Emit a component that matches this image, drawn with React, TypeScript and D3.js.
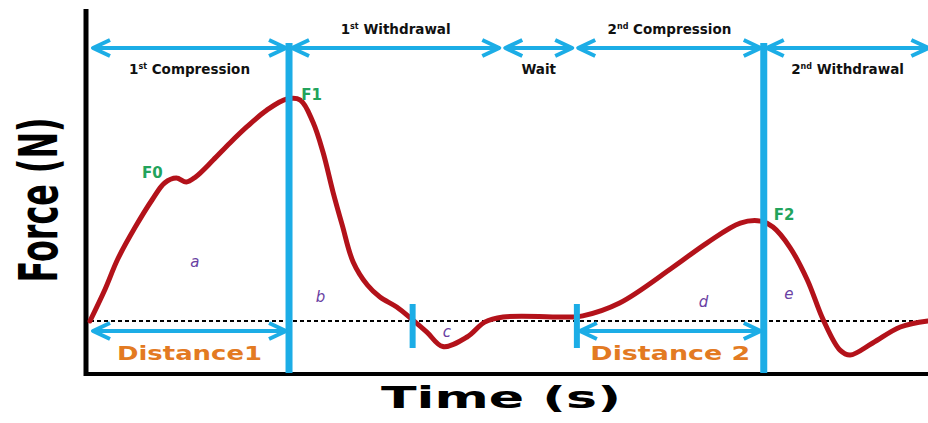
import React from 'react';
import * as d3 from 'd3';

// curve samples: time (arbitrary units 0-100) and force (relative units, F1 = 100)
const times = [0, 1.8, 3.3, 5.4, 7.4, 8.9, 10.3, 11.5, 12.6, 14.7, 16.7, 18.7, 21.1, 23.5, 25.1, 26.6, 27.8, 29.0, 30.1, 31.4, 33.1, 34.6, 36.6, 38.5, 40.2, 42.1, 45.0, 47.1, 49.3, 57.3, 58.8, 63.2, 69.6, 73.6, 77.6, 80.0, 81.5, 83.5, 85.6, 87.5, 89.5, 90.7, 93.4, 96.7, 100];
const forces = [0, 14.3, 27.8, 42.3, 54.5, 62.2, 64.4, 62.6, 64.9, 72.5, 80.2, 87.4, 95.0, 100, 99.5, 89.6, 76.1, 58.1, 43.2, 26.6, 16.2, 10.8, 6.3, 0.5, -5.0, -11.5, -7.2, -0.5, 1.8, 1.8, 2.3, 8.1, 24.3, 35.1, 44.1, 45.0, 42.3, 33.3, 18.5, 0.5, -13.1, -15.3, -9.9, -2.7, 0];

// phases along the top
const phaseStarts = [0, 23.75, 49.2, 57.9, 80.4];
const phaseEnds = [23.75, 49.2, 57.9, 80.4, 100.4];
const phaseOrdinals = ['1', '1', '', '2', '2'];
const phaseSups = ['st', 'st', '', 'nd', 'nd'];
const phaseNames = [' Compression', ' Withdrawal', 'Wait', ' Compression', ' Withdrawal'];
const phaseAbove = [false, true, false, true, false];

// big separators and short markers
const bigLines = [23.75, 80.4];
const shortMarks = [38.5, 58.1];

// distance arrows
const distStarts = [0, 58.1];
const distEnds = [23.75, 80.4];
const distLabels = ['Distance1', 'Distance 2'];
const distWidths = [145, 160];

// peak labels
const peakNames = ['F0', 'F1', 'F2'];
const peakTimes = [6.2, 25.2, 81.6];
const peakForces = [64.5, 99.5, 45.5];

// area labels
const areaNames = ['a', 'b', 'c', 'd', 'e'];
const areaTimes = [12.5, 27.5, 42.6, 73.2, 83.4];
const areaForces = [24.5, 8.6, -7.3, 6.3, 9.9];

const W = 928;
const H = 423;
const BLUE = '#1cade6';
const RED = '#b3121a';
const GREEN = '#22a35c';
const PURPLE = '#6a3fa3';
const ORANGE = '#e37a22';
const FONT = "'DejaVu Sans', sans-serif";

export default function App() {
  const x = d3.scaleLinear().domain([0, 100]).range([90, 928]);
  const y = d3.scaleLinear().domain([0, 100]).range([321, 99]);

  const pts: [number, number][] = times.map((t, i) => [t, forces[i]]);
  const line = d3
    .line<[number, number]>()
    .x((d) => x(d[0]))
    .y((d) => y(d[1]))
    .curve(d3.curveCatmullRom.alpha(0.5));

  const arrowPath = (x1: number, x2: number, yy: number) => {
    const L = 17;
    const h = 8;
    return `M${x1},${yy}L${x2},${yy}M${x1 + L},${yy - h}L${x1},${yy}L${x1 + L},${yy + h}M${x2 - L},${yy - h}L${x2},${yy}L${x2 - L},${yy + h}`;
  };

  const topY = 48;
  const gap = 3;

  return (
    <svg
      width={W}
      height={H}
      style={{ position: 'absolute', left: 0, top: 0, background: '#fff' }}
      fontFamily={FONT}
    >
      {/* axes */}
      <line x1={86} y1={9} x2={86} y2={376} stroke="#000" strokeWidth={5} />
      <line x1={84} y1={374} x2={928} y2={374} stroke="#000" strokeWidth={4} />

      {/* baseline */}
      <line x1={x(0)} y1={y(0)} x2={x(100)} y2={y(0)} stroke="#000" strokeWidth={2} strokeDasharray="4 3" />

      {/* curve */}
      <path d={line(pts) || ''} fill="none" stroke={RED} strokeWidth={5} strokeLinejoin="round" strokeLinecap="round" />

      {/* big separators */}
      {bigLines.map((t, i) => (
        <line key={'b' + i} x1={x(t)} x2={x(t)} y1={43} y2={373} stroke={BLUE} strokeWidth={7} />
      ))}
      {shortMarks.map((t, i) => (
        <line key={'s' + i} x1={x(t)} x2={x(t)} y1={304} y2={348} stroke={BLUE} strokeWidth={6} />
      ))}

      {/* top phase arrows */}
      {phaseStarts.map((s, i) => {
        const x1 = x(s) + gap;
        const x2 = x(phaseEnds[i]) - gap;
        const cx = (x(s) + x(phaseEnds[i])) / 2;
        const ty = phaseAbove[i] ? 34 : 74;
        return (
          <g key={'p' + i}>
            <path d={arrowPath(x1, x2, topY)} fill="none" stroke={BLUE} strokeWidth={4} strokeLinejoin="round" />
            <text x={cx} y={ty} textAnchor="middle" fontSize={13.5} fontWeight="bold" fill="#111">
              {phaseOrdinals[i]}
              {phaseSups[i] && (
                <tspan fontSize={8} dy={-5}>
                  {phaseSups[i]}
                </tspan>
              )}
              <tspan dy={phaseSups[i] ? 5 : 0}>{phaseNames[i]}</tspan>
            </text>
          </g>
        );
      })}

      {/* distance arrows */}
      {distStarts.map((s, i) => {
        const x1 = x(s) + gap;
        const x2 = x(distEnds[i]) - gap;
        const cx = (x(s) + x(distEnds[i])) / 2;
        return (
          <g key={'d' + i}>
            <path d={arrowPath(x1, x2, 331)} fill="none" stroke={BLUE} strokeWidth={4} strokeLinejoin="round" />
            <text
              x={cx}
              y={360}
              textAnchor="middle"
              fontSize={19}
              fontWeight="bold"
              fill={ORANGE}
              textLength={distWidths[i]}
              lengthAdjust="spacingAndGlyphs"
            >
              {distLabels[i]}
            </text>
          </g>
        );
      })}

      {/* peak labels */}
      {peakNames.map((n, i) => (
        <text key={n} x={x(peakTimes[i])} y={y(peakForces[i])} fontSize={15} fontWeight="bold" fill={GREEN}>
          {n}
        </text>
      ))}

      {/* area labels */}
      {areaNames.map((n, i) => (
        <text
          key={n}
          x={x(areaTimes[i])}
          y={y(areaForces[i])}
          textAnchor="middle"
          fontSize={15}
          fontStyle="italic"
          fill={PURPLE}
        >
          {n}
        </text>
      ))}

      {/* axis titles */}
      <text
        x={0}
        y={0}
        transform="translate(57,200) rotate(-90)"
        textAnchor="middle"
        fontSize={54}
        fontWeight="bold"
        fill="#000"
        textLength={165}
        lengthAdjust="spacingAndGlyphs"
      >
        Force (N)
      </text>
      <text
        x={501}
        y={408}
        textAnchor="middle"
        fontSize={31}
        fontWeight="bold"
        fill="#000"
        textLength={240}
        lengthAdjust="spacingAndGlyphs"
      >
        Time (s)
      </text>
    </svg>
  );
}
